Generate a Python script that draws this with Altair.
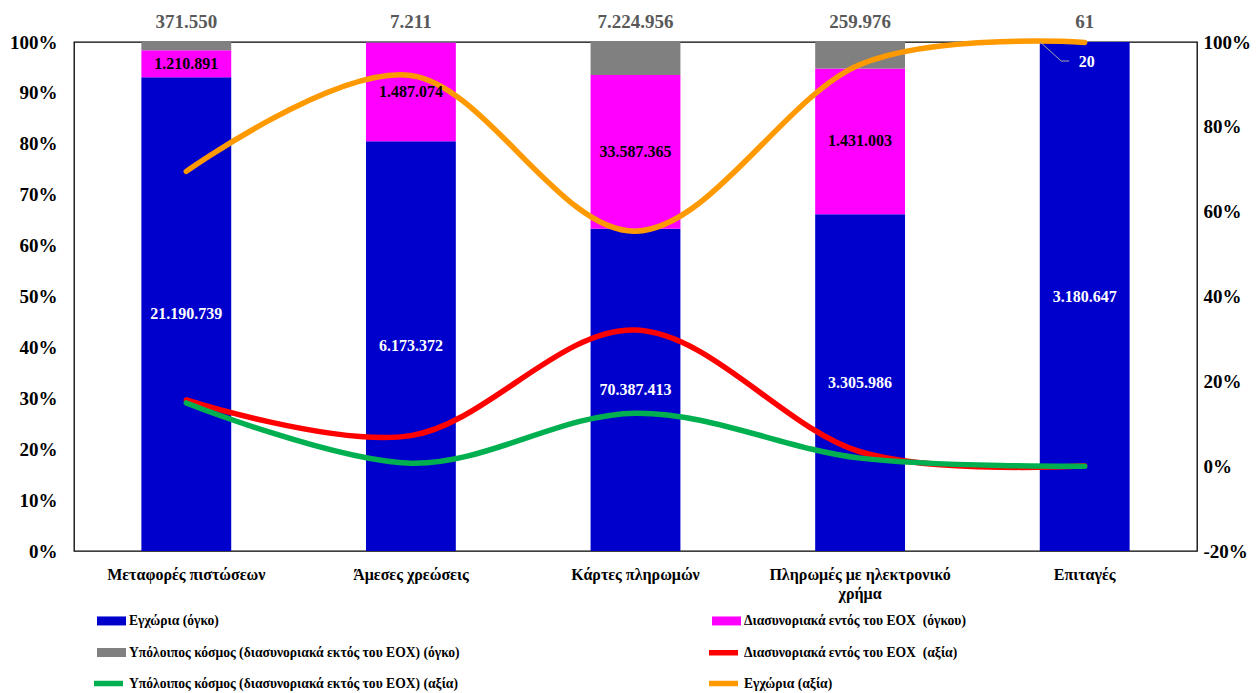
import altair as alt
import pandas as pd

# ---------------- data ----------------
categories = ["Μεταφορές πιστώσεων", "Άμεσες χρεώσεις", "Κάρτες πληρωμών",
              "Πληρωμές με ηλεκτρονικό χρήμα", "Επιταγές"]

vol_series = ["Εγχώρια (όγκο)",
              "Διασυνοριακά εντός του ΕΟΧ\u00a0 (όγκου)",
              "Υπόλοιπος κόσμος (διασυνοριακά εκτός του ΕΟΧ) (όγκο)"]
val_series = ["Διασυνοριακά εντός του ΕΟΧ\u00a0 (αξία)",
              "Υπόλοιπος κόσμος (διασυνοριακά εκτός του ΕΟΧ) (αξία)",
              "Εγχώρια (αξία)"]

# volumes (stacked 100% bars)
vol_domestic = [21190739, 6173372, 70387413, 3305986, 3180647]
vol_eea = [1210891, 1487074, 33587365, 1431003, 20]
vol_row = [371550, 7211, 7224956, 259976, 61]

# value shares (lines, right axis)
share_eea = [0.156, 0.072, 0.321, 0.034, 0.001]
share_row = [0.149, 0.007, 0.125, 0.019, 0.000]
share_domestic = [0.695, 0.921, 0.554, 0.947, 0.999]

bar_colors = ["#0000CC", "#FF00FF", "#808080"]
line_colors = ["#FF0000", "#00B050", "#FF9900"]

left_ticks = [0, 0.1, 0.2, 0.3, 0.4, 0.5, 0.6, 0.7, 0.8, 0.9, 1.0]
right_ticks = [-0.2, 0, 0.2, 0.4, 0.6, 0.8, 1.0]

# ---------------- tables ----------------
vol_rows = []
for k, (s, vals) in enumerate(zip(vol_series, [vol_domestic, vol_eea, vol_row])):
    for c, v in zip(categories, vals):
        vol_rows.append({"cat": c, "series": s, "value": v, "order": k})
vol_df = pd.DataFrame(vol_rows)

val_rows = []
for s, vals in zip(val_series, [share_eea, share_row, share_domestic]):
    for c, v in zip(categories, vals):
        val_rows.append({"cat": c, "series": s, "share": v})
val_df = pd.DataFrame(val_rows)

FONT = "Liberation Serif"

x_enc = alt.X(
    "cat:N", sort=categories,
    scale=alt.Scale(paddingInner=0.6, paddingOuter=0.3),
    axis=alt.Axis(title=None, labelAngle=0, domain=False, ticks=False,
                  labelFont=FONT, labelFontWeight="bold", labelFontSize=16,
                  labelColor="black", labelPadding=15, labelLineHeight=19,
                  labelLimit=400,
                  labelExpr="length(datum.label) > 24 ? [slice(datum.label, 0, 23), slice(datum.label, 24)] : datum.label"),
)

legend_common = dict(
    title=None, orient="none", columns=2, padding=0,
    direction="horizontal", gridAlign="all", symbolSize=841,
    labelFont=FONT, labelFontWeight="bold", labelFontSize=13.6,
    labelColor="black", labelOffset=3, labelLimit=700,
)

# bars legend: filled rectangles
fill_enc = alt.Fill(
    "series:N",
    scale=alt.Scale(domain=vol_series, range=bar_colors),
    legend=alt.Legend(legendX=23, legendY=564, columnPadding=252, rowPadding=10,
                      symbolType="M-1,-0.31L1,-0.31L1,0.31L-1,0.31Z",
                      symbolStrokeWidth=0, symbolOpacity=1, **legend_common),
)

# lines legend: first slot is an empty placeholder so entries interleave
BLANK = " "
stroke_enc = alt.Stroke(
    "series:N",
    scale=alt.Scale(domain=[BLANK] + val_series, range=["transparent"] + line_colors),
    legend=alt.Legend(legendX=17, legendY=593, columnPadding=240, rowPadding=2,
                      symbolType="stroke", symbolStrokeWidth=5.5,
                      symbolOpacity=1, **legend_common),
)

# ---------------- bars ----------------
stack_base = (
    alt.Chart(vol_df)
    .transform_joinaggregate(total="sum(value)", groupby=["cat"])
    .transform_window(cum="sum(value)", groupby=["cat"],
                      sort=[alt.SortField("order", order="ascending")],
                      frame=[None, 0])
    .transform_calculate(
        y1="datum.cum / datum.total",
        y0="(datum.cum - datum.value) / datum.total",
    )
    .transform_calculate(
        mid="(datum.y0 + datum.y1) / 2",
        share="datum.value / datum.total",
        label="replace(format(datum.value, ','), regexp(',', 'g'), '.')",
    )
)

bars = stack_base.mark_bar(strokeWidth=0).encode(
    x=x_enc,
    y=alt.Y("y0:Q", scale=alt.Scale(domain=[0, 1], nice=False, zero=False),
            axis=alt.Axis(title=None, orient="left", values=left_ticks,
                          labelExpr="round(datum.value * 100) + '%'",
                          domain=False, ticks=False, grid=False,
                          labelFont=FONT, labelFontWeight="bold",
                          labelFontSize=19, labelColor="black", labelPadding=17)),
    y2="y1:Q",
    fill=fill_enc,
)

# ---------------- lines ----------------
line_layers = []
for s in val_series:
    line_layers.append(
        alt.Chart(val_df).transform_filter(alt.datum.series == s)
        .mark_line(interpolate="cardinal", strokeWidth=5.5, strokeCap="round")
        .encode(
            x=x_enc,
            y=alt.Y("share:Q",
                    scale=alt.Scale(domain=[-0.2, 1.0], nice=False, zero=False),
                    axis=alt.Axis(title=None, orient="right", values=right_ticks,
                                  labelExpr="round(datum.value * 100) + '%'",
                                  domain=False, ticks=False, grid=False,
                                  labelFont=FONT, labelFontWeight="bold",
                                  labelFontSize=19, labelColor="black",
                                  labelPadding=6)),
            stroke=stroke_enc,
        )
    )
lines = alt.layer(*line_layers)

# ---------------- labels ----------------
yscale01 = alt.Scale(domain=[0, 1], nice=False, zero=False)
ytext = alt.Y("mid:Q", scale=yscale01, axis=None)
ytop = alt.Y("y1:Q", scale=yscale01, axis=None)

lab_dom = stack_base.transform_filter(alt.datum.order == 0).mark_text(
    font=FONT, fontWeight="bold", fontSize=16, color="white", baseline="middle"
).encode(x=x_enc, y=ytext, text="label:N")

lab_eea = stack_base.transform_filter(
    (alt.datum.order == 1) & (alt.datum.share > 0.01)).mark_text(
    font=FONT, fontWeight="bold", fontSize=16, color="black", baseline="middle"
).encode(x=x_enc, y=ytext, text="label:N")

small = stack_base.transform_filter((alt.datum.order == 1) & (alt.datum.share <= 0.01))

lab_eea_small = small.mark_text(
    font=FONT, fontWeight="bold", fontSize=16, color="white", baseline="middle",
    dy=20, dx=2
).encode(x=x_enc, y=ytext, text="label:N")

# leader line of the tiny segment's label (offsets relative to bar centre)
leader1 = small.mark_rule(color="#a6a6a6", strokeWidth=1,
                          xOffset=-44.5, x2Offset=-23.5, y2Offset=19).encode(
    x=x_enc, x2="cat:N", y=ytop, y2="y1:Q",
)
leader2 = small.mark_rule(color="#a6a6a6", strokeWidth=1,
                          xOffset=-23.5, x2Offset=-15.5,
                          yOffset=19, y2Offset=19).encode(
    x=x_enc, x2="cat:N", y=ytop, y2="y1:Q",
)

lab_row = stack_base.transform_filter(alt.datum.order == 2).mark_text(
    font=FONT, fontWeight="bold", fontSize=19, color="#595959", baseline="middle",
    dy=-20
).encode(x=x_enc, y=ytop, text="label:N")

labels = alt.layer(leader1, leader2, lab_dom, lab_eea, lab_eea_small, lab_row)

chart = (
    alt.layer(bars, lines, labels)
    .resolve_scale(y="independent")
    .properties(
        width=1123, height=509,
        padding={"left": 66, "top": 34, "right": 54, "bottom": 142},
        autosize=alt.AutoSizeParams(type="none"),
        background="white",
    )
    .configure_view(stroke="black", strokeWidth=1.3)
)

chart.save("out.html", embed_options={"renderer": "svg", "actions": False})
